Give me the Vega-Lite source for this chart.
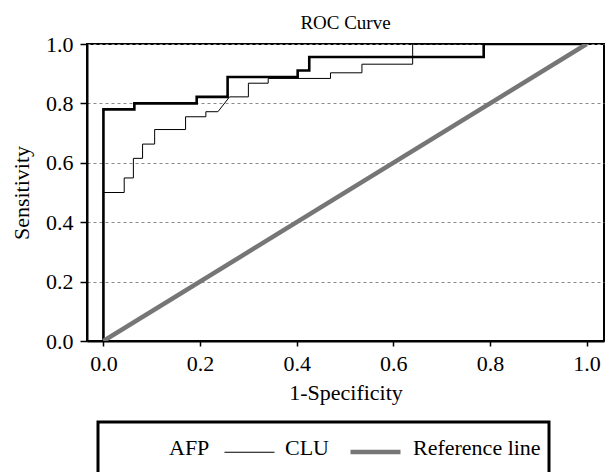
{
  "$schema": "https://vega.github.io/schema/vega-lite/v6.json",
  "autosize": {"type": "none"},
  "padding": {"left": 87, "top": 44, "right": 11, "bottom": 131},
  "width": 517,
  "height": 297,
  "title": {"text": "ROC Curve", "font": "Liberation Serif", "fontSize": 19, "fontWeight": "normal", "color": "black", "frame": "group", "offset": 0},
  "config": {
    "view": {"stroke": "black", "strokeWidth": 2},
    "axis": {"labelFont": "Liberation Serif", "titleFont": "Liberation Serif", "labelFontSize": 22, "titleFontSize": 22, "titleFontWeight": "normal", "labelColor": "black", "titleColor": "black", "domainColor": "black", "domainWidth": 2, "tickColor": "black", "tickWidth": 1.5},
    "legend": {"labelFont": "Liberation Serif", "labelFontSize": 22, "labelColor": "black"}
  },
  "data": {"values": [
    {"series": "AFP", "o": 1, "x": 0, "y": 0},
    {"series": "AFP", "o": 2, "x": 0, "y": 0.78},
    {"series": "AFP", "o": 3, "x": 0.064, "y": 0.78},
    {"series": "AFP", "o": 4, "x": 0.064, "y": 0.8},
    {"series": "AFP", "o": 5, "x": 0.193, "y": 0.8},
    {"series": "AFP", "o": 6, "x": 0.193, "y": 0.822},
    {"series": "AFP", "o": 7, "x": 0.257, "y": 0.822},
    {"series": "AFP", "o": 8, "x": 0.257, "y": 0.889},
    {"series": "AFP", "o": 9, "x": 0.402, "y": 0.889},
    {"series": "AFP", "o": 10, "x": 0.402, "y": 0.911},
    {"series": "AFP", "o": 11, "x": 0.426, "y": 0.911},
    {"series": "AFP", "o": 12, "x": 0.426, "y": 0.956},
    {"series": "AFP", "o": 13, "x": 0.787, "y": 0.956},
    {"series": "AFP", "o": 14, "x": 0.787, "y": 1},
    {"series": "AFP", "o": 15, "x": 1, "y": 1},
    {"series": "CLU", "o": 1, "x": 0, "y": 0},
    {"series": "CLU", "o": 2, "x": 0, "y": 0.5},
    {"series": "CLU", "o": 3, "x": 0.043, "y": 0.5},
    {"series": "CLU", "o": 4, "x": 0.043, "y": 0.549},
    {"series": "CLU", "o": 5, "x": 0.062, "y": 0.549},
    {"series": "CLU", "o": 6, "x": 0.062, "y": 0.615},
    {"series": "CLU", "o": 7, "x": 0.081, "y": 0.615},
    {"series": "CLU", "o": 8, "x": 0.081, "y": 0.663},
    {"series": "CLU", "o": 9, "x": 0.106, "y": 0.663},
    {"series": "CLU", "o": 10, "x": 0.106, "y": 0.712},
    {"series": "CLU", "o": 11, "x": 0.17, "y": 0.712},
    {"series": "CLU", "o": 12, "x": 0.17, "y": 0.755},
    {"series": "CLU", "o": 13, "x": 0.212, "y": 0.755},
    {"series": "CLU", "o": 14, "x": 0.212, "y": 0.772},
    {"series": "CLU", "o": 15, "x": 0.237, "y": 0.772},
    {"series": "CLU", "o": 16, "x": 0.261, "y": 0.822},
    {"series": "CLU", "o": 17, "x": 0.3, "y": 0.822},
    {"series": "CLU", "o": 18, "x": 0.3, "y": 0.868},
    {"series": "CLU", "o": 19, "x": 0.341, "y": 0.868},
    {"series": "CLU", "o": 20, "x": 0.341, "y": 0.884},
    {"series": "CLU", "o": 21, "x": 0.47, "y": 0.884},
    {"series": "CLU", "o": 22, "x": 0.47, "y": 0.903},
    {"series": "CLU", "o": 23, "x": 0.535, "y": 0.903},
    {"series": "CLU", "o": 24, "x": 0.535, "y": 0.932},
    {"series": "CLU", "o": 25, "x": 0.64, "y": 0.932},
    {"series": "CLU", "o": 26, "x": 0.64, "y": 1},
    {"series": "CLU", "o": 27, "x": 1, "y": 1},
    {"series": "Reference line", "o": 1, "x": 0, "y": 0},
    {"series": "Reference line", "o": 2, "x": 1, "y": 1}
  ]},
  "mark": {"type": "line", "strokeCap": "butt", "strokeJoin": "miter", "clip": true},
  "encoding": {
    "x": {"field": "x", "type": "quantitative", "title": "1-Specificity",
      "scale": {"domain": [-0.034, 1.036], "nice": false, "zero": false},
      "axis": {"values": [0, 0.2, 0.4, 0.6, 0.8, 1], "format": ".1f", "grid": false, "tickSize": 5, "labelPadding": 7, "titlePadding": 8}},
    "y": {"field": "y", "type": "quantitative", "title": "Sensitivity",
      "scale": {"domain": [0, 1], "nice": false},
      "axis": {"values": [0, 0.2, 0.4, 0.6, 0.8, 1], "format": ".1f", "grid": true, "gridDash": [3, 3], "gridColor": "#8a8a8a", "gridWidth": 1, "tickSize": 7, "labelPadding": 7, "titlePadding": 12}},
    "order": {"field": "o", "type": "quantitative"},
    "color": {"field": "series", "type": "nominal",
      "scale": {"domain": ["AFP", "CLU", "Reference line"], "range": ["black", "black", "#767676"]},
      "legend": {"title": " ", "titleOrient": "bottom", "titleFontSize": 12, "titlePadding": 0, "orient": "none", "legendX": 11, "legendY": 378, "direction": "horizontal",
        "symbolType": "M-1.667,0.3H1.667", "symbolSize": 900, "symbolOffset": 10, "labelOffset": 20, "columnPadding": 12, "padding": 8,
        "strokeColor": "black",
        "encode": {
          "legend": {"update": {"strokeWidth": {"value": 3}}},
          "symbols": {"update": {
            "opacity": {"signal": "datum.value === 'AFP' ? 0 : 1"},
            "strokeWidth": {"signal": "datum.value === 'AFP' ? 2.6 : datum.value === 'CLU' ? 1 : 4.5"}
          }}
        }}},
    "strokeWidth": {"field": "series", "type": "ordinal",
      "scale": {"type": "ordinal", "domain": ["AFP", "CLU", "Reference line"], "range": [2.6, 1, 4.5]},
      "legend": null}
  }
}
